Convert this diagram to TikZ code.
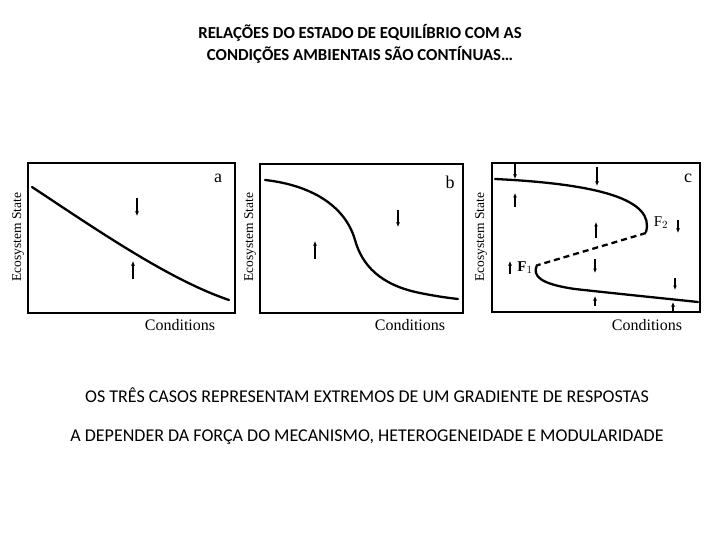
\documentclass[tikz,border=0pt]{standalone}
\usepackage{fontspec}
\setmainfont{Carlito}
\newfontfamily\plotfont{Liberation Serif}
\usetikzlibrary{arrows.meta}

\tikzset{
  panel/.style={line width=1.3pt},
  branch/.style={line width=2.3pt, line cap=round},
  flow/.style={line width=1.1pt, -{Latex[length=4.5pt,width=4pt]}},
  axlabel/.style={font=\plotfont\fontsize{13.5}{15}\selectfont, inner sep=0pt},
  condlabel/.style={font=\plotfont\fontsize{16}{18}\selectfont, inner sep=0pt},
  tag/.style={font=\plotfont\fontsize{18}{20}\selectfont, inner sep=0pt},
}

\begin{document}
\begin{tikzpicture}[x=1pt, y=-1pt]
    \useasboundingbox (0, 0) rectangle (720, 540);

    % titulo
    \node[font=\bfseries\fontsize{16.8}{22}\selectfont, align=center] (title) at (360, 44)
        {RELAÇÕES DO ESTADO DE EQUILÍBRIO COM AS\\CONDIÇÕES AMBIENTAIS SÃO CONTÍNUAS…};

    % painel a
    \draw [panel] (28, 163) rectangle (235, 313);
    \draw [branch] (32, 187) .. controls (100, 232) and (170, 280) .. (229, 300);
    \draw [flow] (137, 198) -- (137, 216);
    \draw [flow] (133, 279) -- (133, 261);
    \node[tag] (taga) at (218, 178) {a};
    \node[axlabel, rotate=90] (ya) at (18, 237) {Ecosystem State};
    \node[condlabel] (xa) at (180, 325) {Conditions};

    % painel b
    \draw [panel] (260, 164) rectangle (463, 313);
    \draw [branch] (265, 180) .. controls (310, 185) and (345, 205) .. (355, 240)
        .. controls (362, 265) and (380, 285) .. (420, 293)
        .. controls (440, 297) and (450, 298) .. (458, 299);
    \draw [flow] (315, 259) -- (315, 241);
    \draw [flow] (398, 210) -- (398, 227);
    \node[tag] (tagb) at (450, 182) {b};
    \node[axlabel, rotate=90] (yb) at (250, 237) {Ecosystem State};
    \node[condlabel] (xb) at (410, 325) {Conditions};

    % painel c
    \draw [panel] (492, 163) rectangle (700, 312);
    \draw [branch] (495, 179) .. controls (600, 184) and (655, 200) .. (646, 232);
    \draw [line width=2.3pt, dash pattern=on 6pt off 4pt] (646, 233) -- (538, 265);
    \draw [branch] (537, 265) .. controls (532, 276) and (540, 284) .. (575, 289)
        .. controls (620, 294) and (660, 298) .. (698, 302);
    \draw [flow] (515, 164) -- (515, 179);
    \draw [flow] (515, 207) -- (515, 193);
    \draw [flow] (597, 167) -- (597, 186);
    \draw [flow] (596, 238) -- (596, 222);
    \draw [flow] (678, 220) -- (678, 233);
    \draw [flow] (510, 274) -- (510, 261);
    \draw [flow] (595, 259) -- (595, 273);
    \draw [flow] (675, 278) -- (675, 290);
    \draw [flow] (595, 306) -- (595, 296);
    \draw [flow] (673, 312) -- (673, 302);
    \node[tag] (tagc) at (688, 178) {c};
    \node[tag, font=\plotfont\fontsize{15}{17}\selectfont] (ftwo) at (661, 223) {F$_2$};
    \node[tag, font=\plotfont\bfseries\fontsize{15}{17}\selectfont] (fone) at (525, 268) {F$_1$};
    \node[axlabel, rotate=90] (yc) at (481, 237) {Ecosystem State};
    \node[condlabel] (xc) at (647, 325) {Conditions};

    % texto de baixo
    \node[font=\fontsize{18}{20}\selectfont] (cases) at (367, 395)
        {OS TRÊS CASOS REPRESENTAM EXTREMOS DE UM GRADIENTE DE RESPOSTAS};
    \node[font=\fontsize{18}{20}\selectfont] (depend) at (367, 437)
        {A DEPENDER DA FORÇA DO MECANISMO, HETEROGENEIDADE E MODULARIDADE};
\end{tikzpicture}
\end{document}
